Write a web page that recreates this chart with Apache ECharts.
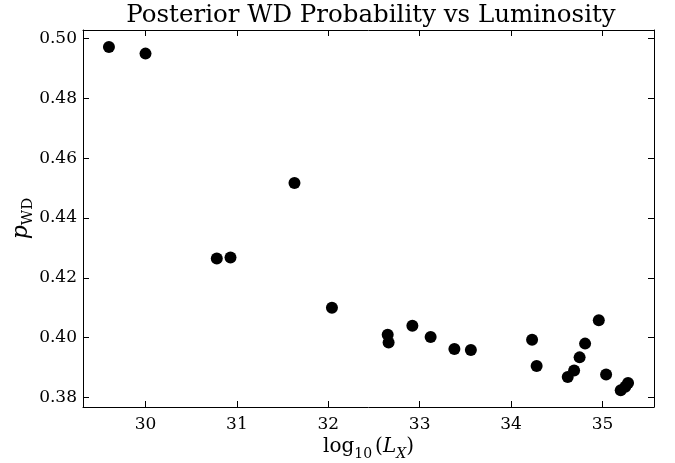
<!DOCTYPE html>
<html>
<head>
<meta charset="utf-8">
<script src="https://cdn.jsdelivr.net/npm/echarts@6/dist/echarts.min.js"></script>
<style>
  html, body { margin: 0; padding: 0; background: #fff; }
  #chart { width: 675px; height: 463px; }
</style>
</head>
<body>
<div id="chart"></div>
<script>
// log10(Lx) and posterior WD probability
const logLx = [29.60, 30.00, 31.63, 30.78, 30.93, 32.04, 32.65, 32.66, 32.92, 33.12,
  33.38, 33.56, 34.23, 34.28, 34.62, 34.69, 34.75, 34.81, 34.96, 35.04, 35.20, 35.25, 35.28];
const pWD = [0.4972, 0.4950, 0.4517, 0.4265, 0.4268, 0.4100, 0.4010, 0.3984, 0.4040, 0.4002,
  0.3962, 0.3959, 0.3993, 0.3905, 0.3868, 0.3890, 0.3934, 0.3980, 0.4058, 0.3877, 0.3824, 0.3836, 0.3848];
const xTicks = [30, 31, 32, 33, 34, 35];
const yTicks = [0.38, 0.40, 0.42, 0.44, 0.46, 0.48, 0.50];

const font = "DejaVu Serif";
const xMin = 29.316, xMax = 35.564;
const yMin = 0.3768, yMax = 0.5029;

const chart = echarts.init(document.getElementById("chart"));

function xAxisDef(pos, labels) {
  return {
    type: "value", position: pos, min: xMin, max: xMax,
    axisLine: { show: true, onZero: false, lineStyle: { color: "#000", width: 1 } },
    axisTick: { show: true, inside: true, length: 6, customValues: xTicks, lineStyle: { color: "#000" } },
    axisLabel: { show: labels, customValues: xTicks, color: "#000", fontFamily: font, fontSize: 17, margin: 9 },
    splitLine: { show: false },
  };
}
function yAxisDef(pos, labels) {
  return {
    type: "value", position: pos, min: yMin, max: yMax,
    axisLine: { show: true, onZero: false, lineStyle: { color: "#000", width: 1 } },
    axisTick: { show: true, inside: true, length: 6, customValues: yTicks, lineStyle: { color: "#000" } },
    axisLabel: {
      show: labels, customValues: yTicks, color: "#000", fontFamily: font, fontSize: 17, margin: 6,
      formatter: (v) => v.toFixed(2),
    },
    splitLine: { show: false },
  };
}

const xa = xAxisDef("bottom", true);
xa.name = "{n|log}{s|10}{n|(}{i|L}{si|X}{n|)}";
xa.nameLocation = "middle";
xa.nameGap = 28;
xa.nameMoveOverlap = false;
xa.nameTextStyle = {
  rich: {
    n: { fontFamily: font, fontSize: 20, color: "#000", lineHeight: 26, verticalAlign: "top", padding: [2, 0, 0, 0] },
    i: { fontFamily: font, fontSize: 20, fontStyle: "italic", color: "#000", lineHeight: 26, verticalAlign: "top", padding: [2, 0, 0, 0] },
    s: { fontFamily: font, fontSize: 14, color: "#000", lineHeight: 16, verticalAlign: "top", padding: [12, 3, 0, 0] },
    si: { fontFamily: font, fontSize: 14, fontStyle: "italic", color: "#000", lineHeight: 16, verticalAlign: "top", padding: [12, 0, 0, 0] },
  },
};

const ya = yAxisDef("left", true);
ya.name = "{i|p}{s|WD}";
ya.nameLocation = "middle";
ya.nameGap = 47;
ya.nameMoveOverlap = false;
ya.nameRotate = 90;
ya.nameTextStyle = {
  rich: {
    i: { fontFamily: font, fontSize: 22, fontStyle: "italic", color: "#000", lineHeight: 26, verticalAlign: "top" },
    s: { fontFamily: font, fontSize: 15, color: "#000", lineHeight: 16, verticalAlign: "top", padding: [11, 0, 0, 0] },
  },
};

chart.setOption({
  animation: false,
  title: {
    text: "Posterior WD Probability vs Luminosity",
    left: 366, top: -2, textAlign: "center",
    textStyle: { fontFamily: font, fontWeight: "normal", fontSize: 24.5, color: "#000" },
  },
  grid: { left: 83, right: 21, top: 30, bottom: 56, outerBoundsMode: "none" },
  xAxis: [xa, xAxisDef("top", false)],
  yAxis: [ya, yAxisDef("right", false)],
  series: [{
    type: "scatter",
    data: logLx.map((x, i) => [x, pWD[i]]),
    symbolSize: 12,
    itemStyle: { color: "#000", opacity: 1 },
  }],
});
</script>
</body>
</html>
